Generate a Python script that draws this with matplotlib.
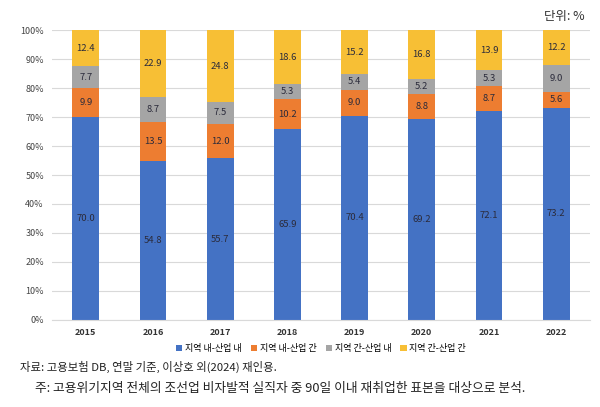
import matplotlib
matplotlib.use("Agg")
import matplotlib.pyplot as plt
import numpy as np

plt.rcParams['font.family'] = ['Noto Sans CJK KR', 'DejaVu Sans']

years = ['2015', '2016', '2017', '2018', '2019', '2020', '2021', '2022']
series_names = ['지역 내-산업 내', '지역 내-산업 간', '지역 간-산업 내', '지역 간-산업 간']
s1 = [70.0, 54.8, 55.7, 65.9, 70.4, 69.2, 72.1, 73.2]
s2 = [9.9, 13.5, 12.0, 10.2, 9.0, 8.8, 8.7, 5.6]
s3 = [7.7, 8.7, 7.5, 5.3, 5.4, 5.2, 5.3, 9.0]
s4 = [12.4, 22.9, 24.8, 18.6, 15.2, 16.8, 13.9, 12.2]
colors = ['#4472C4', '#ED7D31', '#A5A5A5', '#F7BF35']

fig = plt.figure(figsize=(6, 4.07), dpi=100)
ax = fig.add_axes([0.087, 0.214, 0.896, 0.712])

x = np.arange(len(years))
bottom = np.zeros(len(years))
for vals, name, c in zip([s1, s2, s3, s4], series_names, colors):
    v = np.array(vals)
    ax.bar(x, v, bottom=bottom, width=0.40, color=c, label=name, zorder=2)
    for xi, b, vi in zip(x, bottom, v):
        ax.text(xi, b + vi / 2, f'{vi:.1f}', ha='center', va='center',
                fontsize=6.8, color='#2B2B3B', zorder=3)
    bottom += v

ax.set_xlim(-0.5, len(years) - 0.5)
ax.set_ylim(0, 100)
ax.set_yticks(np.arange(0, 101, 10))
ax.set_yticklabels([f'{t}%' for t in range(0, 101, 10)], fontsize=6.5, color='#444444')
ax.set_xticks(x)
ax.set_xticklabels(years, fontsize=6.5, fontweight='bold', color='#333333')
ax.yaxis.grid(True, color='#D9D9D9', linewidth=0.8, zorder=0)
ax.set_axisbelow(True)
for sp in ['top', 'right', 'left']:
    ax.spines[sp].set_visible(False)
ax.spines['bottom'].set_color('#D9D9D9')
ax.tick_params(axis='both', length=0, pad=6)

leg = ax.legend(loc='upper center', bbox_to_anchor=(0.5, -0.055), ncol=4, frameon=False,
                fontsize=6.5, handlelength=0.7, handleheight=0.7, handletextpad=0.3,
                columnspacing=1.0)

fig.text(0.975, 0.975, '단위: %', ha='right', va='top', fontsize=9, color='#333333')
fig.text(0.033, 0.098, '자료: 고용보험 DB, 연말 기준, 이상호 외(2024) 재인용.', ha='left', va='center',
         fontsize=8.2, color='#222222')
fig.text(0.058, 0.045, '주: 고용위기지역 전체의 조선업 비자발적 실직자 중 90일 이내 재취업한 표본을 대상으로 분석.',
         ha='left', va='center', fontsize=9.2, color='#222222')

fig.savefig('out.png', dpi=100)
